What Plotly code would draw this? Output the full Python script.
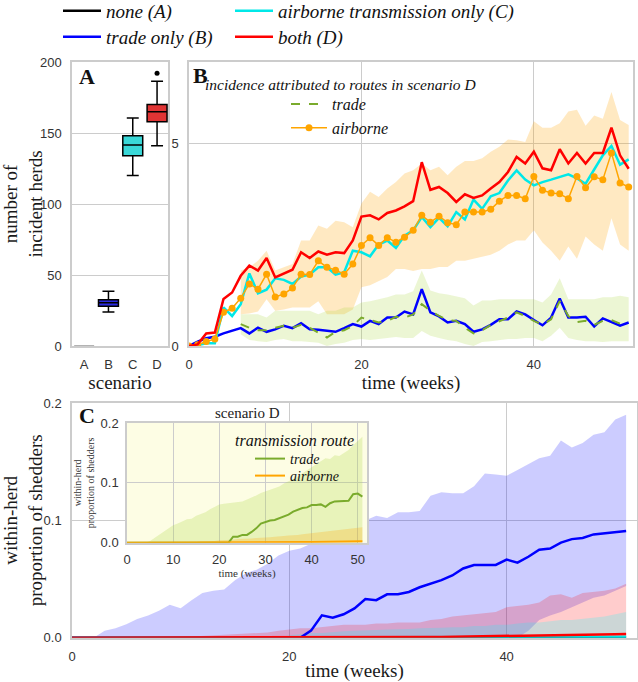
import plotly.graph_objects as go

W, H = 638, 682
def px(x):
    return x / W
def py(y):
    return 1 - y / H

SERIF = "Liberation Serif"
SANS = "Liberation Sans"

weeks = list(range(52))
band_weeks = weeks[6:]

# ---------------- Panel A: number of incident herds per scenario ----------------
scenarios = ["A", "B", "C", "D"]
box_lowerfence = [0.0, 24.0, 120.0, 141.0]
box_q1 = [0.0, 28.0, 134.0, 158.0]
box_median = [0.0, 30.5, 141.5, 165.0]
box_q3 = [0.0, 32.5, 148.0, 170.0]
box_upperfence = [0.0, 38.5, 160.5, 186.5]
outlier_scenario = ["D"]
outlier_value = [192.0]

# ---------------- Panel B: weekly incidence ----------------
inc_B = [0.00, 0.11, 0.19, 0.23, 0.31, 0.37, 0.44, 0.31, 0.45, 0.35,
         0.41, 0.50, 0.44, 0.56, 0.41, 0.40, 0.37, 0.35, 0.44, 0.54,
         0.48, 0.62, 0.54, 0.70, 0.70, 0.85, 0.78, 1.40, 0.83, 0.73,
         0.58, 0.62, 0.54, 0.35, 0.41, 0.52, 0.66, 0.66, 0.85, 0.78,
         0.64, 0.51, 0.70, 1.17, 0.70, 0.70, 0.72, 0.48, 0.68, 0.60,
         0.50, 0.58]
inc_C = [0.00, 0.02, 0.07, 0.07, 0.95, 0.74, 1.03, 1.79, 1.30, 1.39,
         1.67, 1.63, 1.53, 1.71, 1.76, 1.94, 1.94, 1.76, 1.82, 2.35,
         2.31, 2.21, 2.50, 2.60, 2.42, 2.72, 2.85, 3.18, 2.93, 3.16,
         2.95, 3.30, 3.12, 3.61, 3.38, 3.69, 3.77, 4.08, 4.33, 4.10,
         3.96, 4.04, 4.10, 4.17, 4.23, 4.13, 4.00, 4.35, 4.70, 4.93,
         4.47, 4.60]
inc_D = [0.00, 0.04, 0.31, 0.33, 1.16, 1.32, 1.73, 1.98, 1.86, 2.17,
         1.69, 1.79, 1.88, 2.31, 2.17, 2.33, 2.25, 2.31, 2.29, 2.60,
         3.19, 3.22, 3.12, 3.28, 3.34, 3.44, 3.57, 4.53, 3.85, 3.92,
         3.77, 3.55, 3.74, 3.65, 3.71, 3.88, 4.04, 4.29, 4.66, 4.50,
         4.79, 4.38, 4.33, 4.85, 4.50, 4.76, 4.50, 4.76, 4.76, 5.38,
         4.70, 4.37]
# routes in scenario D
inc_D_air = [0.00, 0.03, 0.11, 0.17, 0.83, 0.93, 1.18, 1.53, 1.40, 1.77,
             1.21, 1.28, 1.43, 1.77, 1.76, 2.10, 1.94, 1.87, 1.77, 2.02,
             2.48, 2.67, 2.48, 2.67, 2.56, 2.68, 2.85, 3.22, 3.05, 3.20,
             3.04, 2.99, 3.30, 3.30, 3.30, 3.37, 3.57, 3.71, 3.71, 3.63,
             4.18, 3.84, 3.77, 3.75, 3.63, 4.18, 3.90, 4.17, 4.10, 4.76,
             4.02, 3.92]
inc_D_trade = [None, None, None, None, None, None, 0.54, 0.45, 0.39, 0.39,
               0.45, 0.50, 0.45, 0.52, 0.45, 0.33, 0.21, 0.35, 0.39, 0.50,
               0.70, 0.64, 0.58, 0.62, 0.72, 0.70, 0.78, 1.03, 0.87, 0.74,
               0.64, 0.62, 0.45, 0.31, 0.39, 0.52, 0.62, 0.70, 0.83, 0.74,
               0.62, 0.52, 0.66, 1.11, 0.74, 0.59, 0.62, 0.52, 0.62, 0.64,
               0.55, 0.52]
# uncertainty bands (weeks 6-51)
air_lo = [0.78, 0.80, 0.85, 1.15, 0.87, 0.90, 0.95, 0.95, 0.95, 1.10,
          0.78, 0.78, 0.78, 0.90, 1.45, 1.50, 1.60, 1.70, 1.90, 1.90,
          1.85, 1.90, 1.90, 1.95, 1.95, 2.10, 2.10, 2.15, 2.20, 2.25,
          2.35, 2.50, 2.60, 2.60, 2.85, 2.55, 2.35, 2.10, 2.45, 2.15,
          2.70, 2.50, 2.35, 3.15, 2.50, 2.35]
air_hi = [1.86, 1.94, 2.10, 2.35, 1.86, 1.94, 2.02, 2.60, 2.60, 2.97,
          2.89, 3.09, 3.05, 2.93, 3.51, 3.80, 3.67, 3.88, 4.04, 4.25,
          4.33, 4.50, 4.33, 4.42, 4.21, 4.42, 4.56, 4.56, 4.63, 4.79,
          4.91, 5.09, 5.07, 5.03, 5.54, 5.38, 5.38, 5.49, 5.78, 5.82,
          5.43, 5.68, 5.60, 6.26, 5.57, 5.45]
trade_lo = [0.29, 0.15, 0.12, 0.10, 0.15, 0.17, 0.12, 0.12, 0.10, 0.08,
            0.00, 0.05, 0.08, 0.15, 0.17, 0.15, 0.17, 0.20, 0.22, 0.20,
            0.20, 0.37, 0.25, 0.20, 0.15, 0.12, 0.05, 0.00, 0.10, 0.12,
            0.15, 0.17, 0.17, 0.20, 0.20, 0.12, 0.25, 0.45, 0.20, 0.15,
            0.12, 0.12, 0.10, 0.12, 0.12, 0.12]
trade_hi = [0.78, 0.78, 0.78, 0.70, 0.87, 0.87, 0.87, 0.87, 0.87, 0.78,
            0.87, 0.87, 0.95, 0.95, 1.07, 1.10, 1.15, 1.20, 1.27, 1.27,
            1.35, 1.86, 1.37, 1.30, 1.27, 1.23, 1.18, 1.00, 1.12, 1.12,
            1.15, 1.15, 1.15, 1.15, 1.15, 1.07, 1.27, 1.67, 1.15, 1.15,
            1.15, 1.15, 1.20, 1.20, 1.24, 1.20]

# ---------------- Panel C: within-herd proportion of shedders ----------------
shed_A = [0, 0, 0, 0, 0, 0, 0, 0, 0, 0, 0, 0, 0, 0, 0, 0, 0, 0, 0, 0, 0, 0, 0, 0, 0, 0,
          0, 0, 0, 0, 0, 0, 0, 0, 0, 0, 0, 0, 0, 0, 0, 0, 0, 0, 0, 0, 0, 0, 0, 0, 0, 0]
shed_B = [0, 0, 0, 0, 0, 0, 0, 0, 0, 0, 0, 0, 0, 0, 0, 0, 0, 0, 0, 0, 0, 0,
          0.006, 0.019, 0.017, 0.020, 0.025, 0.033, 0.032, 0.037, 0.037, 0.039,
          0.043, 0.046, 0.049, 0.053, 0.059, 0.062, 0.062, 0.062, 0.0665, 0.064,
          0.069, 0.075, 0.076, 0.081, 0.084, 0.085, 0.088, 0.089, 0.090, 0.091]
shed_B_lo = [0, 0, 0, 0, 0, 0, 0, 0, 0, 0, 0, 0, 0, 0, 0, 0, 0, 0, 0, 0, 0,
             0, 0, 0, 0, 0, 0, 0, 0, 0, 0, 0, 0, 0, 0, 0, 0, 0, 0, 0, 0, 0,
             0.006, 0.015, 0.019, 0.022, 0.026, 0.030, 0.034, 0.036, 0.040, 0.044]
shed_B_hi = [0, 0, 0, 0.006, 0.008, 0.0115, 0.016, 0.019, 0.023, 0.028,
             0.025, 0.032, 0.038, 0.040, 0.041, 0.049, 0.055, 0.058, 0.063, 0.070,
             0.074, 0.076, 0.080, 0.083, 0.088, 0.092, 0.096, 0.100, 0.104, 0.102,
             0.107, 0.107, 0.108, 0.121, 0.124, 0.123, 0.123, 0.129, 0.140, 0.139,
             0.138, 0.143, 0.148, 0.153, 0.155, 0.168, 0.162, 0.166, 0.173, 0.175,
             0.186, 0.190]
shed_C = [0, 0, 0, 0, 0, 0, 0, 0, 0, 0, 0, 0, 0, 0, 0, 0, 0, 0, 0, 0,
          0, 0, 0, 0, 0, 0, 0, 0, 0, 0, 0, 0, 0, 0, 0, 0, 0, 0, 0, 0,
          0.0003, 0.0003, 0.0004, 0.0004, 0.0005, 0.0005, 0.0006, 0.0006, 0.0007, 0.0007,
          0.0008, 0.0008]
shed_C_lo = [0, 0, 0, 0, 0, 0, 0, 0, 0, 0, 0, 0, 0, 0, 0, 0, 0, 0, 0, 0, 0, 0, 0, 0, 0, 0,
             0, 0, 0, 0, 0, 0, 0, 0, 0, 0, 0, 0, 0, 0, 0, 0, 0, 0, 0, 0, 0, 0, 0, 0, 0, 0]
shed_C_hi = [0, 0, 0, 0, 0, 0, 0, 0, 0, 0, 0, 0, 0, 0, 0, 0, 0, 0, 0, 0,
             0.002, 0.003, 0.004, 0.004, 0.005, 0.0055, 0.006, 0.006, 0.0065, 0.007,
             0.007, 0.0075, 0.008, 0.008, 0.0085, 0.009, 0.009, 0.010, 0.010, 0.011,
             0.011, 0.012, 0.013, 0.013, 0.014, 0.015, 0.015, 0.016, 0.017, 0.018,
             0.020, 0.022]
shed_D = [0, 0, 0, 0, 0, 0, 0, 0, 0, 0, 0, 0, 0, 0, 0, 0, 0, 0, 0, 0,
          0, 0, 0, 0, 0, 0, 0, 0, 0, 0,
          0.0003, 0.0004, 0.0005, 0.0006, 0.0007, 0.0008, 0.0009, 0.0010, 0.0012, 0.0013,
          0.0015, 0.0016, 0.0017, 0.0019, 0.0020, 0.0022, 0.0023, 0.0025, 0.0026, 0.0028,
          0.0029, 0.0031]
shed_D_lo = [0, 0, 0, 0, 0, 0, 0, 0, 0, 0, 0, 0, 0, 0, 0, 0, 0, 0, 0, 0, 0, 0, 0, 0, 0, 0,
             0, 0, 0, 0, 0, 0, 0, 0, 0, 0, 0, 0, 0, 0, 0, 0, 0, 0, 0, 0, 0, 0, 0, 0, 0, 0]
shed_D_hi = [0, 0, 0, 0, 0, 0, 0, 0, 0, 0,
             0.0005, 0.001, 0.0015, 0.002, 0.0025, 0.003, 0.0035, 0.004, 0.0045, 0.006,
             0.007, 0.008, 0.008, 0.009, 0.0105, 0.011, 0.011, 0.011, 0.012, 0.012,
             0.013, 0.013, 0.013, 0.015, 0.016, 0.018, 0.019, 0.020, 0.021, 0.022,
             0.026, 0.027, 0.028, 0.030, 0.036, 0.037, 0.034, 0.038, 0.039, 0.040,
             0.042, 0.046]

# inset: scenario D by transmission route
route_trade = [0, 0, 0, 0, 0, 0, 0, 0, 0, 0, 0, 0, 0, 0, 0, 0, 0, 0, 0, 0, 0, 0, 0,
               0.010, 0.010, 0.013, 0.013, 0.018, 0.024, 0.032, 0.035, 0.037, 0.038,
               0.041, 0.044, 0.047, 0.052, 0.055, 0.058, 0.059, 0.063, 0.063, 0.064,
               0.060, 0.066, 0.069, 0.069, 0.069, 0.070, 0.081, 0.082, 0.077]
route_trade_lo = [0, 0, 0, 0, 0, 0, 0, 0, 0, 0, 0, 0, 0, 0, 0, 0, 0, 0, 0, 0, 0, 0, 0, 0, 0, 0,
                  0, 0, 0, 0, 0, 0, 0, 0, 0, 0, 0, 0, 0, 0, 0, 0, 0, 0, 0, 0, 0, 0, 0, 0, 0, 0]
route_trade_hi = [0, 0, 0, 0, 0,
                  0.003, 0.008, 0.013, 0.019, 0.024, 0.029, 0.032, 0.036, 0.039, 0.040,
                  0.045, 0.048, 0.051, 0.056, 0.060, 0.064, 0.065, 0.066, 0.066, 0.067,
                  0.069, 0.072, 0.075, 0.079, 0.083, 0.086, 0.088, 0.091, 0.094, 0.099,
                  0.103, 0.106, 0.110, 0.116, 0.121, 0.126, 0.130, 0.135, 0.141, 0.140,
                  0.146, 0.145, 0.150, 0.155, 0.163, 0.170, 0.177]
route_air = [0, 0, 0, 0, 0, 0, 0, 0, 0, 0, 0, 0, 0, 0, 0, 0, 0, 0, 0, 0,
             0, 0, 0, 0, 0, 0, 0, 0, 0, 0,
             0.0003, 0.0004, 0.0005, 0.0006, 0.0007, 0.0008, 0.0009, 0.0010, 0.0011, 0.0012,
             0.0013, 0.0014, 0.0015, 0.0016, 0.0017, 0.0018, 0.0019, 0.0020, 0.0021, 0.0022,
             0.0023, 0.0024]
route_air_lo = [0, 0, 0, 0, 0, 0, 0, 0, 0, 0, 0, 0, 0, 0, 0, 0, 0, 0, 0, 0, 0, 0, 0, 0, 0, 0,
                0, 0, 0, 0, 0, 0, 0, 0, 0, 0, 0, 0, 0, 0, 0, 0, 0, 0, 0, 0, 0, 0, 0, 0, 0, 0]
route_air_hi = [0, 0, 0, 0, 0, 0, 0, 0, 0, 0, 0, 0, 0, 0, 0,
                0.001, 0.002, 0.002, 0.003, 0.003, 0.004, 0.004, 0.005, 0.005, 0.006,
                0.006, 0.007, 0.007, 0.008, 0.008, 0.009, 0.009, 0.010, 0.010, 0.011,
                0.012, 0.012, 0.013, 0.014, 0.015, 0.016, 0.016, 0.017, 0.018, 0.019,
                0.020, 0.021, 0.022, 0.023, 0.024, 0.025, 0.026]

# ---------------- styling ----------------
COL_A, COL_B, COL_C, COL_D = "#000000", "#0000ff", "#00e8e8", "#ff0000"
BOX_FILL = ["#9a9a9a", "#2a2ae0", "#3ad8d8", "#e03434"]
BOX_LINE = ["#9a9a9a", "#000000", "#000000", "#000000"]
COL_TRADE, COL_AIR = "#7aab2c", "#ffa500"
INSET_X_RANGE = [0, 52]
INSET_Y_RANGE = [0, 0.2]

fig = go.Figure()

# Panel A boxes
for i, s in enumerate(scenarios):
    fig.add_trace(go.Box(
        x=[s], q1=[box_q1[i]], median=[box_median[i]], q3=[box_q3[i]],
        lowerfence=[box_lowerfence[i]], upperfence=[box_upperfence[i]],
        fillcolor=BOX_FILL[i], line=dict(color=BOX_LINE[i], width=1.5),
        whiskerwidth=0.6, width=0.82, boxpoints=False, showlegend=False,
        xaxis="x", yaxis="y", hoverinfo="skip"))
fig.add_trace(go.Scatter(x=outlier_scenario, y=outlier_value, mode="markers",
                         marker=dict(color="black", size=5), showlegend=False,
                         xaxis="x", yaxis="y"))


def band(x, lo, hi, color, xa, ya):
    fig.add_trace(go.Scatter(x=x, y=lo, mode="lines", line=dict(width=0, color=color),
                             showlegend=False, hoverinfo="skip", xaxis=xa, yaxis=ya))
    fig.add_trace(go.Scatter(x=x, y=hi, mode="lines", line=dict(width=0, color=color),
                             fill="tonexty", fillcolor=color, showlegend=False,
                             hoverinfo="skip", xaxis=xa, yaxis=ya))


# Panel B
band(band_weeks, air_lo, air_hi, "rgba(255,165,0,0.24)", "x2", "y2")
band(band_weeks, trade_lo, trade_hi, "rgba(170,215,60,0.22)", "x2", "y2")
fig.add_trace(go.Scatter(x=weeks, y=inc_B, mode="lines", name="trade only (B)",
                         line=dict(color=COL_B, width=2.5), legend="legend3",
                         xaxis="x2", yaxis="y2"))
fig.add_trace(go.Scatter(x=weeks, y=inc_D_trade, mode="lines", name="trade",
                         line=dict(color=COL_TRADE, width=2, dash="dash"), legend="legend5",
                         legendrank=1, xaxis="x2", yaxis="y2"))
fig.add_trace(go.Scatter(x=weeks, y=inc_C, mode="lines", name="airborne transmission only (C)",
                         line=dict(color=COL_C, width=2.5), legend="legend2",
                         xaxis="x2", yaxis="y2"))
fig.add_trace(go.Scatter(x=weeks, y=inc_D_air, mode="lines+markers", name="airborne",
                         line=dict(color=COL_AIR, width=1.5), marker=dict(size=7, color=COL_AIR),
                         legend="legend5", legendrank=2, xaxis="x2", yaxis="y2"))
fig.add_trace(go.Scatter(x=weeks, y=inc_D, mode="lines", name="both (D)",
                         line=dict(color=COL_D, width=2.5), legend="legend4",
                         xaxis="x2", yaxis="y2"))

# Panel C
band(weeks, shed_B_lo, shed_B_hi, "rgba(0,0,255,0.2)", "x3", "y3")
band(weeks, shed_D_lo, shed_D_hi, "rgba(255,0,0,0.2)", "x3", "y3")
band(weeks, shed_C_lo, shed_C_hi, "rgba(0,255,255,0.2)", "x3", "y3")
fig.add_trace(go.Scatter(x=weeks, y=shed_A, mode="lines", name="none (A)",
                         line=dict(color=COL_A, width=2.5), legend="legend",
                         xaxis="x3", yaxis="y3"))
for yv, col in [(shed_B, COL_B), (shed_C, COL_C), (shed_D, COL_D)]:
    fig.add_trace(go.Scatter(x=weeks, y=yv, mode="lines", line=dict(color=col, width=2.5),
                             showlegend=False, xaxis="x3", yaxis="y3"))

# Inset
band(weeks, route_trade_lo, route_trade_hi, "rgba(170,215,60,0.25)", "x4", "y4")
band(weeks, route_air_lo, route_air_hi, "rgba(255,165,0,0.25)", "x4", "y4")
fig.add_trace(go.Scatter(x=weeks, y=route_trade, mode="lines", name="trade",
                         line=dict(color=COL_TRADE, width=2), legend="legend6",
                         xaxis="x4", yaxis="y4"))
fig.add_trace(go.Scatter(x=weeks, y=route_air, mode="lines", name="airborne",
                         line=dict(color=COL_AIR, width=2), legend="legend7",
                         xaxis="x4", yaxis="y4"))

TICKFONT = dict(family=SANS, size=13, color="#333333")
TITLEFONT = dict(family=SERIF, size=19, color="#1a1a1a")


def axis(**kw):
    d = dict(showline=True, mirror=True, linecolor="#cccccc", linewidth=1.5,
             showgrid=True, gridcolor="#cccccc", gridwidth=1, zeroline=False,
             ticks="", tickfont=TICKFONT, ticklabelstandoff=6, automargin=False)
    d.update(kw)
    return d


def leg(x, y, size, itemwidth=30, **kw):
    d = dict(x=x, y=y, xanchor="left", yanchor="top", bgcolor="rgba(0,0,0,0)",
             font=dict(family=SERIF, size=size, style="italic", color="#111111"),
             itemwidth=itemwidth, tracegroupgap=0, traceorder="normal")
    d.update(kw)
    return d


fig.update_layout(
    width=W, height=H, template="none",
    margin=dict(l=0, r=0, t=0, b=0, autoexpand=False),
    paper_bgcolor="white", plot_bgcolor="white",
    showlegend=True,
    xaxis=axis(domain=[px(72), px(168)], anchor="y", type="category",
               categoryorder="array", categoryarray=scenarios, range=[-0.5, 3.45],
               showgrid=False,
               title=dict(text="scenario", font=TITLEFONT, standoff=4)),
    yaxis=axis(domain=[py(346), py(62)], anchor="x", range=[0, 200], dtick=50,
               title=dict(text="number of<br>incident herds", font=TITLEFONT, standoff=8)),
    xaxis2=axis(domain=[px(189), px(633)], anchor="y2", range=[0, 51.5], dtick=20,
                title=dict(text="time (weeks)", font=TITLEFONT, standoff=4)),
    yaxis2=axis(domain=[py(346), py(62)], anchor="x2", range=[0, 7], tickvals=[0, 5]),
    xaxis3=axis(domain=[px(72), px(637)], anchor="y3", range=[0, 52], dtick=20,
                title=dict(text="time (weeks)", font=TITLEFONT, standoff=4)),
    yaxis3=axis(domain=[py(637.7), py(403)], anchor="x3", range=[0, 0.2],
                tickvals=[0, 0.1, 0.2], tickformat=".1f",
                title=dict(text="within-herd<br>proportion of shedders", font=TITLEFONT, standoff=4)),
    xaxis4=axis(domain=[px(127), px(367)], anchor="y4", range=INSET_X_RANGE, dtick=10,
                ticklabelstandoff=4,
                title=dict(text="time (weeks)", font=dict(family=SERIF, size=11, color="#333"), standoff=2)),
    yaxis4=axis(domain=[py(542.7), py(423)], anchor="x4", range=INSET_Y_RANGE, dtick=0.1,
                tickformat=".1f", ticklabelstandoff=4,
                title=dict(text="within-herd<br>proportion of shedders",
                           font=dict(family=SERIF, size=10, color="#333"), standoff=4)),
    # main legend: two rows x two columns
    legend=leg(px(58), py(-8), 19, itemwidth=38),
    legend2=leg(px(230), py(-8), 19, itemwidth=38),
    legend3=leg(px(58), py(18), 19, itemwidth=38),
    legend4=leg(px(230), py(18), 19, itemwidth=38),
    # panel B legend
    legend5=leg(px(286), py(87), 16, itemwidth=36),
    # inset legend
    legend6=leg(px(250), py(443), 14),
    legend7=leg(px(250), py(460), 14),
    shapes=[dict(type="rect", xref="x4", yref="y4", x0=INSET_X_RANGE[0], x1=INSET_X_RANGE[1],
                 y0=INSET_Y_RANGE[0], y1=INSET_Y_RANGE[1], layer="below",
                 fillcolor="#fdfde4", line=dict(width=0))],
    annotations=[
        dict(text="<b>A</b>", x=px(77), y=py(76), xref="paper", yref="paper",
             xanchor="left", yanchor="middle", showarrow=False,
             font=dict(family=SERIF, size=22, color="#111")),
        dict(text="<b>B</b>", x=px(191), y=py(75), xref="paper", yref="paper",
             xanchor="left", yanchor="middle", showarrow=False,
             font=dict(family=SERIF, size=22, color="#111")),
        dict(text="incidence attributed to routes in scenario D", x=px(203), y=py(84),
             xref="paper", yref="paper", xanchor="left", yanchor="middle", showarrow=False,
             font=dict(family=SERIF, size=15.5, style="italic", color="#111")),
        dict(text="<b>C</b>", x=px(77), y=py(415), xref="paper", yref="paper",
             xanchor="left", yanchor="middle", showarrow=False,
             font=dict(family=SERIF, size=22, color="#111")),
        dict(text="scenario D", x=px(247), y=py(413), xref="paper", yref="paper",
             xanchor="center", yanchor="middle", showarrow=False,
             font=dict(family=SERIF, size=15, color="#222")),
        dict(text="transmission route", x=px(294), y=py(440), xref="paper", yref="paper",
             xanchor="center", yanchor="middle", showarrow=False,
             font=dict(family=SERIF, size=16, style="italic", color="#111")),
    ],
)

fig.write_html("out.html", config={"displayModeBar": False},
               post_script="document.body.style.margin='0px';")
